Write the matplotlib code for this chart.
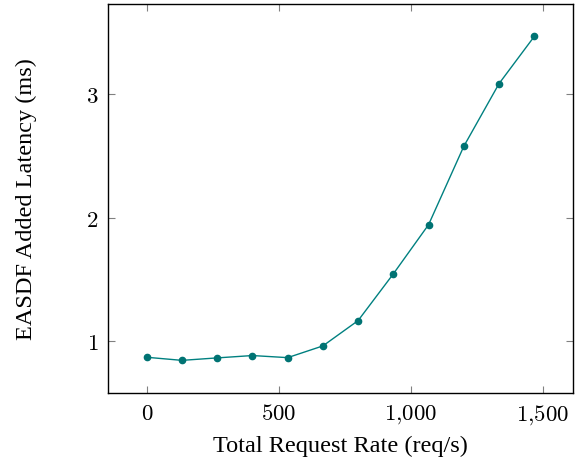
import matplotlib
matplotlib.use("Agg")
import matplotlib.pyplot as plt
from matplotlib.ticker import FuncFormatter

plt.rcParams['mathtext.fontset'] = 'cm'
plt.rcParams['font.family'] = ['Liberation Serif', 'DejaVu Serif']

rate = [0, 133.3, 266.7, 400, 533.3, 666.7, 800, 933.3, 1066.7, 1200, 1333.3, 1466.7]
latency = [0.87, 0.845, 0.865, 0.884, 0.867, 0.962, 1.167, 1.545, 1.943, 2.577, 3.084, 3.466]
xticks = [0, 500, 1000, 1500]
yticks = [1, 2, 3]

fig = plt.figure(figsize=(5.76, 4.6), dpi=100)
ax = fig.add_axes([0.1875, 0.1435, 0.8073, 0.8455])
ax.plot(rate, latency, color=(0, 0.5, 0.5), lw=1.0, marker='o', ms=4.5,
        mfc=(0, 0.45, 0.45), mec=(0, 0.45, 0.45))
ax.set_xlim(-146.7, 1613.3)
ax.set_ylim(0.581, 3.728)
ax.set_xticks(xticks)
ax.set_yticks(yticks)

def fmt(v, pos):
    s = f"{int(round(v)):,}".replace(",", "{,}")
    return f"${s}$"
ax.xaxis.set_major_formatter(FuncFormatter(fmt))
ax.yaxis.set_major_formatter(FuncFormatter(fmt))
ax.tick_params(direction='in', top=True, right=True, length=5, width=0.8,
               color='#808080', labelsize=16.5, pad=7)
for s in ax.spines.values():
    s.set_linewidth(1.0)
ax.set_xlabel('Total Request Rate (req/s)', fontsize=17.5, labelpad=6)
ax.set_ylabel('EASDF Added Latency (ms)', fontsize=17.5, labelpad=35)
fig.savefig('out.png', dpi=100)
